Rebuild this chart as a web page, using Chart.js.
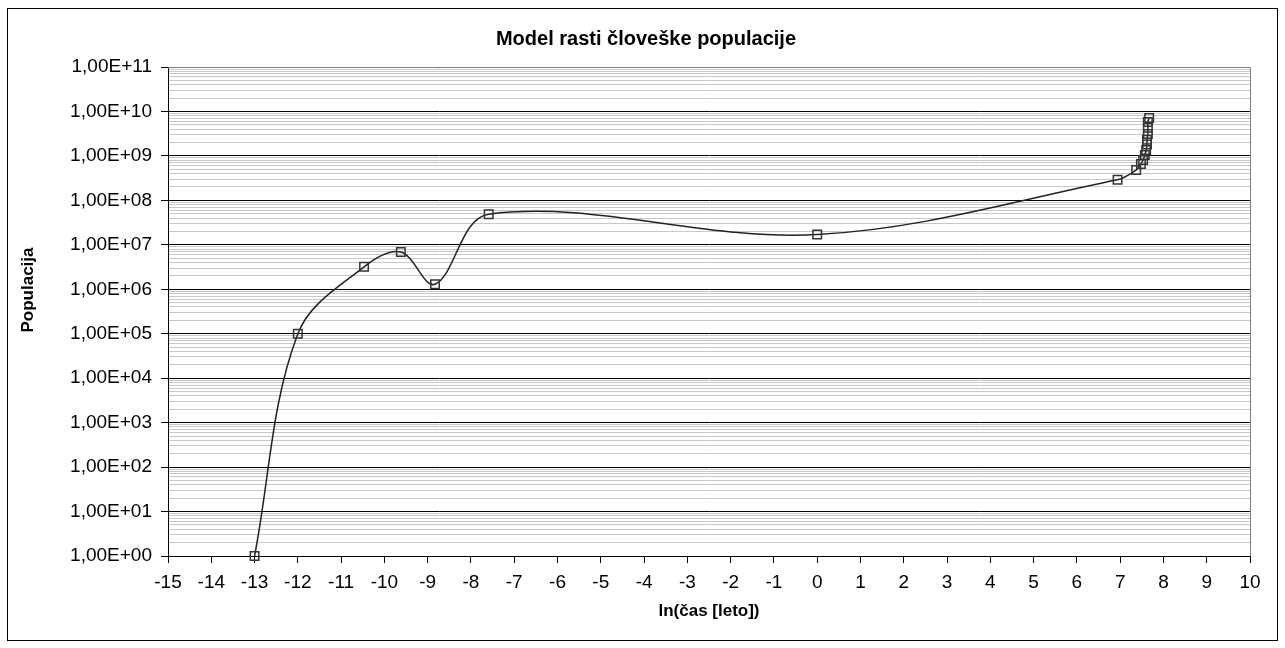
<!DOCTYPE html>
<html>
<head>
<meta charset="utf-8">
<script src="https://cdn.jsdelivr.net/npm/chart.js@4.4.1/dist/chart.umd.min.js"></script>
<style>
  html, body { margin: 0; padding: 0; background: #fff; }
  #wrap { width: 1285px; height: 648px; }
</style>
</head>
<body>
<div id="wrap"><canvas id="graf"></canvas></div>
<script>
// ln(čas) in populacija, odčitano s slike
const lnCas = [-13, -12, -10.47, -9.62, -8.83, -7.59, 0, 6.94, 7.37, 7.48, 7.53, 7.57, 7.6, 7.62, 7.62, 7.64, 7.64, 7.64, 7.67];
const populacija = [1, 1e5, 3.2e6, 6.9e6, 1.3e6, 4.9e7, 1.7e7, 2.9e8, 4.8e8, 6.6e8, 8.1e8, 1.05e9, 1.35e9, 1.8e9, 2.3e9, 3.1e9, 4.3e9, 5.8e9, 7.1e9];

const xMin = -15;
const xMax = 10;
const yOznake = ["1,00E+00", "1,00E+01", "1,00E+02", "1,00E+03", "1,00E+04", "1,00E+05",
  "1,00E+06", "1,00E+07", "1,00E+08", "1,00E+09", "1,00E+10", "1,00E+11"];

const naslov = "Model rasti človeške populacije";
const naslovY = "Populacija";
const naslovX = "ln(čas [leto])";

const pisava = 'Arial, "Liberation Sans", sans-serif';

function jeDekada(v) {
  const e = Math.log10(v);
  return Math.abs(e - Math.round(e)) < 1e-9;
}

const okvir = {
  id: "okvir",
  beforeDatasetsDraw(chart) {
    const { ctx, chartArea: a } = chart;
    ctx.save();
    ctx.strokeStyle = "#808080";
    ctx.lineWidth = 1;
    ctx.beginPath();
    ctx.moveTo(a.left, Math.round(a.top) + 0.5);
    ctx.lineTo(Math.round(a.right) + 0.5, Math.round(a.top) + 0.5);
    ctx.lineTo(Math.round(a.right) + 0.5, a.bottom);
    ctx.stroke();
    ctx.restore();
  },
  afterDraw(chart) {
    const ctx = chart.ctx;
    ctx.save();
    ctx.strokeStyle = "#000";
    ctx.lineWidth = 1;
    ctx.strokeRect(7.5, 8.5, 1270, 632);
    ctx.fillStyle = "#000";
    ctx.textAlign = "center";
    ctx.textBaseline = "middle";
    // naslov grafa
    ctx.font = "bold 20px " + pisava;
    ctx.fillText(naslov, 646, 39);
    // naslov osi y
    ctx.translate(28, 290);
    ctx.rotate(-Math.PI / 2);
    ctx.font = "bold 17px " + pisava;
    ctx.fillText(naslovY, 0, 0);
    ctx.restore();
  },
};

const ctx = document.getElementById("graf");

const grafikon = new Chart(ctx, {
  type: "scatter",
  data: {
    datasets: [
      {
        label: naslovY,
        data: lnCas.map((x, i) => ({ x: x, y: populacija[i] })),
        showLine: true,
        tension: 0.35,
        borderColor: "#222",
        borderWidth: 1.5,
        pointStyle: "rect",
        pointRadius: 6,
        pointBorderWidth: 1.5,
        pointBorderColor: "#333",
        pointBackgroundColor: "rgba(0,0,0,0)",
        clip: false,
      },
    ],
  },
  options: {
    responsive: true,
    maintainAspectRatio: false,
    animation: false,
    layout: {
      padding: { top: 67, right: 35, bottom: 0, left: 0 },
    },
    plugins: {
      legend: { display: false },
      tooltip: { enabled: false },
      title: { display: false },
    },
    scales: {
      x: {
        type: "linear",
        min: xMin,
        max: xMax,
        afterFit(scale) {
          scale.height = 92;
        },
        border: { color: "#000", width: 1 },
        grid: {
          drawOnChartArea: false,
          drawTicks: true,
          tickLength: 7,
          color: "#000",
        },
        ticks: {
          stepSize: 1,
          color: "#000",
          padding: 8,
          font: { family: pisava, size: 19 },
        },
        title: {
          display: true,
          text: naslovX,
          color: "#000",
          font: { family: pisava, size: 17, weight: "bold" },
          padding: { top: 0, bottom: 26 },
        },
      },
      y: {
        type: "logarithmic",
        min: 1,
        max: 1e11,
        afterFit(scale) {
          scale.width = 168;
        },
        afterBuildTicks(scale) {
          const t = [];
          for (let d = 0; d < yOznake.length; d++) {
            const osnova = Math.pow(10, d);
            t.push({ value: osnova });
            if (d < yOznake.length - 1) {
              for (let k = 2; k <= 9; k++) t.push({ value: k * osnova });
            }
          }
          scale.ticks = t;
        },
        border: { color: "#000", width: 1 },
        grid: {
          color: (c) => (c.tick && jeDekada(c.tick.value) ? "#000" : "#c8c8c8"),
          tickColor: (c) => (c.tick && jeDekada(c.tick.value) ? "#000" : "rgba(0,0,0,0)"),
          tickLength: 7,
          lineWidth: 1,
        },
        ticks: {
          autoSkip: false,
          color: "#000",
          padding: 9,
          font: { family: pisava, size: 19 },
          callback: (v) => (jeDekada(v) ? yOznake[Math.round(Math.log10(v))] : ""),
        },
      },
    },
  },
  plugins: [okvir],
});
</script>
</body>
</html>
